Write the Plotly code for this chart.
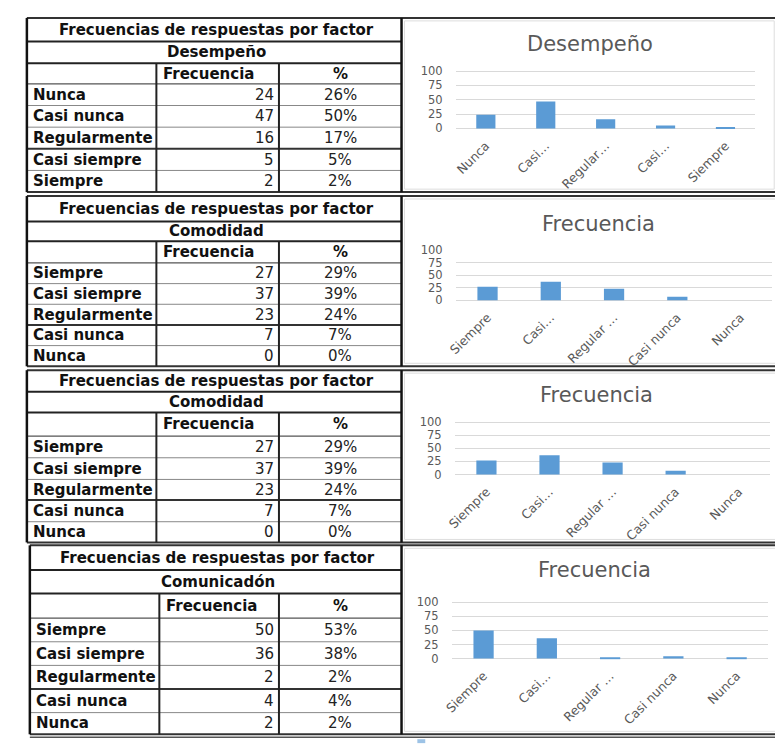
import plotly.graph_objects as go

W, H = 783, 749
OFF = 8  # page body margin

# ---------------- data ----------------
tabla_titulo = "Frecuencias de respuestas por factor"
col_frec = "Frecuencia"
col_pct = "%"
factores = ["Desempeño", "Comodidad", "Comodidad", "Comunicadón"]
titulos_graf = ["Desempeño", "Frecuencia", "Frecuencia", "Frecuencia"]

cat_1 = ["Nunca", "Casi nunca", "Regularmente", "Casi siempre", "Siempre"]
frec_1 = [24, 47, 16, 5, 2]
pct_1 = [26, 50, 17, 5, 2]
tick_1 = ["Nunca", "Casi…", "Regular…", "Casi…", "Siempre"]

cat_2 = ["Siempre", "Casi siempre", "Regularmente", "Casi nunca", "Nunca"]
frec_2 = [27, 37, 23, 7, 0]
pct_2 = [29, 39, 24, 7, 0]
tick_2 = ["Siempre", "Casi…", "Regular …", "Casi nunca", "Nunca"]

cat_3 = ["Siempre", "Casi siempre", "Regularmente", "Casi nunca", "Nunca"]
frec_3 = [27, 37, 23, 7, 0]
pct_3 = [29, 39, 24, 7, 0]
tick_3 = ["Siempre", "Casi…", "Regular …", "Casi nunca", "Nunca"]

cat_4 = ["Siempre", "Casi siempre", "Regularmente", "Casi nunca", "Nunca"]
frec_4 = [50, 36, 2, 4, 2]
pct_4 = [53, 38, 2, 4, 2]
tick_4 = ["Siempre", "Casi…", "Regular …", "Casi nunca", "Nunca"]

y_ticks = [0, 25, 50, 75, 100]

paneles = [
    (cat_1, frec_1, pct_1, tick_1),
    (cat_2, frec_2, pct_2, tick_2),
    (cat_3, frec_3, pct_3, tick_3),
    (cat_4, frec_4, pct_4, tick_4),
]

# ---------------- layout geometry (pixels of the picture) ----------------
tablas = [
    dict(left=18, right=397, c1=149, c2=273, rows=[12, 36, 58, 79, 101, 123, 145, 167, 189]),
    dict(left=18, right=397, c1=149, c2=273, rows=[193, 219, 239, 261, 282, 303, 324, 345, 366]),
    dict(left=18, right=397, c1=149, c2=273, rows=[370, 392, 413, 437, 459, 481, 502, 524, 545]),
    dict(left=21, right=397, c1=152, c2=273, rows=[548, 573, 597, 622, 646, 670, 694, 718, 740]),
]
graficos = [
    dict(x0=452, x1=755, ytop=66, ybot=124.3, tx=588, ty=38),
    dict(x0=452, x1=772, ytop=248, ybot=299, tx=596, ty=221),
    dict(x0=451, x1=770, ytop=423, ybot=476, tx=594, ty=395),
    dict(x0=448, x1=768, ytop=606, ybot=663, tx=592, ty=573),
]

FONT = "DejaVu Sans"
GRAY = "#595959"
BLUE = "#5B9BD5"
TS = 15  # table font size


def px(x):
    return (x - OFF) / W


def py(y):
    return 1 - (y - OFF) / H


fig = go.Figure()
shapes = []
annotations = []


def hline(x0, x1, y, w, c):
    shapes.append(dict(type="line", xref="paper", yref="paper",
                       x0=px(x0), x1=px(x1), y0=py(y), y1=py(y),
                       line=dict(color=c, width=w)))


def vline(x, y0, y1, w, c):
    shapes.append(dict(type="line", xref="paper", yref="paper",
                       x0=px(x), x1=px(x), y0=py(y0), y1=py(y1),
                       line=dict(color=c, width=w)))


def text(x, y, s, size, bold=False, anchor="center", color="#111111"):
    annotations.append(dict(xref="paper", yref="paper", x=px(x), y=py(y),
                            text=f"<b>{s}</b>" if bold else s, showarrow=False,
                            xanchor=anchor, yanchor="middle",
                            font=dict(family=FONT, size=size, color=color)))


PAD = 2
for i, ((cats, frec, pct, ticks), t, g) in enumerate(zip(paneles, tablas, graficos), start=1):
    L, R, c1, c2, r = t["left"], t["right"], t["c1"], t["c2"], t["rows"]
    fr_right = 774 if i == 1 else 790
    shapes.append(dict(type="rect", xref="paper", yref="paper",
                       x0=px(400), x1=px(fr_right), y0=py(r[0] + 3), y1=py(r[8] - 3),
                       line=dict(color="#DDDDDD", width=1), layer="below"))
    hline(L, 792, r[0], 2, "#333333")
    hline(L, 792, r[8], 2, "#333333")
    hline(L, R, r[1], 2, "#222222")
    hline(L, R, r[2], 2, "#222222")
    hline(L, R, r[3], 1.2, "#555555")
    hline(L, R, r[4], 1, "#888888")
    hline(L, R, r[5], 1, "#888888")
    hline(L, R, r[6], 2, "#333333")
    hline(L, R, r[7], 1, "#888888")
    vline(L, r[0], r[8], 2.5, "#111111")
    vline(R, r[0], r[8], 2.5, "#111111")
    vline(c1, r[2], r[8], 2, "#222222")
    vline(c2, r[2], r[8], 2, "#222222")

    mid = lambda k: (r[k] + r[k + 1]) / 2
    text((L + R) / 2 + 2, mid(0), tabla_titulo, TS, bold=True)
    text((L + R) / 2 + 2, mid(1), factores[i - 1], TS, bold=True)
    text(c1 + 5, mid(2), col_frec, TS, bold=True, anchor="left")
    text((c2 + R) / 2, mid(2), col_pct, TS, bold=True)
    for k in range(5):
        text(L + 4, mid(3 + k), cats[k], TS, bold=True, anchor="left")
        text(c2 - 3, mid(3 + k), str(frec[k]), TS, anchor="right", color="#222222")
        text((c2 + R) / 2, mid(3 + k), f"{pct[k]}%", TS, color="#222222")

    fig.add_trace(go.Bar(x=cats, y=frec, width=0.32, marker=dict(color=BLUE, line=dict(width=0)),
                         xaxis=f"x{i}", yaxis=f"y{i}", showlegend=False, hoverinfo="skip"))
    scale = (g["ybot"] - g["ytop"]) / 100.0
    ax = dict(domain=[px(g["x0"]), px(g["x1"])], anchor=f"y{i}", type="category",
              range=[-0.5, 4.5], showgrid=False, zeroline=False, showline=False,
              tickmode="array", tickvals=cats, ticktext=ticks, tickangle=-45,
              ticks="outside", ticklen=3, tickcolor="rgba(0,0,0,0)",
              tickfont=dict(family=FONT, size=12.5, color=GRAY), fixedrange=True)
    ay = dict(domain=[py(g["ybot"] + PAD * scale), py(g["ytop"] - PAD * scale)], anchor=f"x{i}",
              range=[-PAD, 100 + PAD], tickmode="array", tickvals=y_ticks,
              showgrid=True, gridcolor="#D9D9D9", gridwidth=1, zeroline=False, showline=False,
              ticks="outside", ticklen=10, tickcolor="rgba(0,0,0,0)",
              tickfont=dict(family=FONT, size=11.5, color=GRAY), fixedrange=True)
    fig.layout[f"xaxis{i}"] = ax
    fig.layout[f"yaxis{i}"] = ay
    text(g["tx"], g["ty"], titulos_graf[i - 1], 21, color=GRAY)

hline(21, 792, 743, 1.5, "#555555")
shapes.append(dict(type="rect", xref="paper", yref="paper", x0=px(413), x1=px(421),
                   y0=py(749), y1=py(745), line=dict(width=0), fillcolor="#9DC3E6"))

fig.update_layout(width=W, height=H, margin=dict(l=0, r=0, t=0, b=0),
                  paper_bgcolor="white", plot_bgcolor="white",
                  shapes=shapes, annotations=annotations, bargap=0.68)

fig.write_html("out.html")
